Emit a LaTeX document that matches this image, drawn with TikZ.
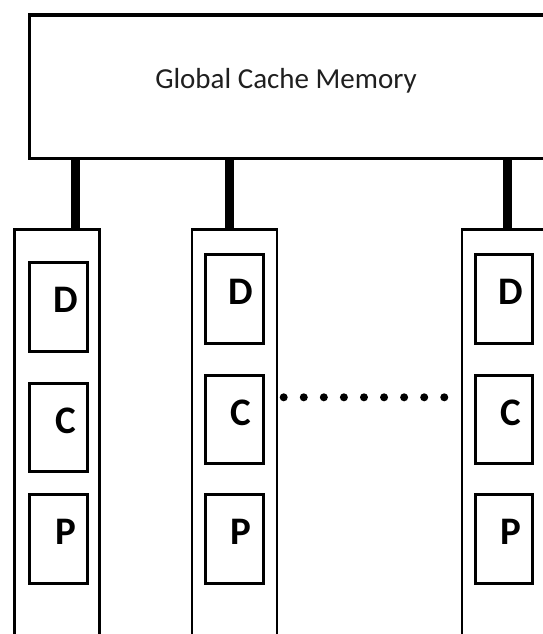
\documentclass[tikz,border=0pt]{standalone}
\usepackage{fontspec}
\setmainfont{Carlito}
\begin{document}
\begin{tikzpicture}[x=1pt,y=-1pt,
  bigbox/.style={draw, line width=3.2pt, anchor=north west, inner sep=0pt},
  column/.style={draw, line width=2.6pt, anchor=north west, inner sep=0pt, minimum width=85pt, minimum height=480pt},
  unit/.style={draw, line width=3pt, anchor=north west, inner sep=0pt, minimum width=57.5pt, minimum height=88.5pt},
  letter/.style={font=\fontsize{39}{39}\selectfont\bfseries, inner sep=0pt},
  title/.style={font=\fontsize{29}{29}\selectfont, text=black!88, inner sep=0pt, anchor=base},
  stem/.style={line width=9pt},
  dots/.style={line width=8pt, line cap=round, dash pattern=on 0pt off 20.07pt}
]
\useasboundingbox (0,0) rectangle (543,634);
\clip (0,0) rectangle (543,634);
% global cache memory
\node[bigbox, minimum width=560pt, minimum height=143.5pt] (gcm) at (27.7,13.5) {};
\node[title] (gt) at (286,88.5) {Global Cache Memory};
% columns
\node[column] (col1) at (13.3,228) {};
\node[column] (col2) at (190.7,228) {};
\node[column] (col3) at (460.5,228) {};
% units column 1
\node[unit] (d1) at (28.3,261) {};
\node[unit] (c1) at (28.3,381.5) {};
\node[unit] (p1) at (28.3,493) {};
% units column 2
\node[unit] (d2) at (204,253) {};
\node[unit] (c2) at (204,373.5) {};
\node[unit] (p2) at (204,493) {};
% units column 3
\node[unit] (d3) at (473.8,253) {};
\node[unit] (c3) at (473.8,373.5) {};
\node[unit] (p3) at (473.8,493) {};
% letters
\foreach \b/\t in {d1/D,c1/C,p1/P,d2/D,c2/C,p2/P,d3/D,c3/C,p3/P}{
  \node[letter] (l\b) at ([shift={(7,-6.5)}]\b.center) {\t};
}
% stems
\coordinate (s1) at (75.5,0);
\coordinate (s2) at (229,0);
\coordinate (s3) at (507,0);
\draw[stem] (gcm.south -| s1) -- (col1.north -| s1);
\draw[stem] (gcm.south -| s2) -- (col2.north -| s2);
\draw[stem] (gcm.south -| s3) -- (col3.north -| s3);
% dotted connector
\coordinate (da) at (283.7,397.3);
\coordinate (db) at (444.3,397.3);
\draw[dots] (da) -- (db);
\end{tikzpicture}
\end{document}
